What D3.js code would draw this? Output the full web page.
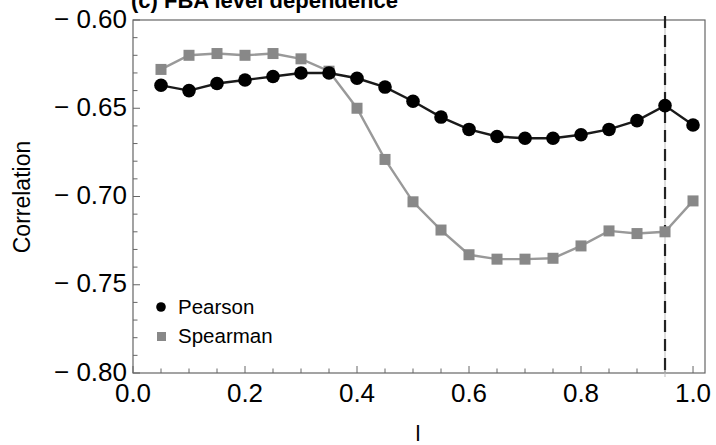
<!DOCTYPE html>
<html><head><meta charset="utf-8">
<script src="https://cdn.jsdelivr.net/npm/d3@7"></script>
<style>body{margin:0;background:#fff;}svg{display:block;font-family:"Liberation Sans",Arial,sans-serif;}</style>
</head><body>
<svg id="c" width="716" height="445"></svg>
<script>
const lValues = [0.05,0.10,0.15,0.20,0.25,0.30,0.35,0.40,0.45,0.50,0.55,0.60,0.65,0.70,0.75,0.80,0.85,0.90,0.95,1.00];
const pearson = [-0.637,-0.640,-0.636,-0.634,-0.632,-0.630,-0.630,-0.633,-0.638,-0.646,-0.655,-0.662,-0.666,-0.667,-0.667,-0.665,-0.662,-0.657,-0.6485,-0.6595];
const spearman = [-0.628,-0.620,-0.619,-0.620,-0.619,-0.622,-0.629,-0.650,-0.679,-0.703,-0.719,-0.733,-0.7355,-0.7355,-0.735,-0.728,-0.7195,-0.721,-0.720,-0.7025];
const xTicks = [0.0,0.2,0.4,0.6,0.8,1.0];
const yTicks = [-0.80,-0.75,-0.70,-0.65,-0.60];
const cutoff = 0.95;
const title = "(c) FBA level dependence";
const xLabel = "l";
const yLabel = "Correlation";
const seriesNames = ["Pearson","Spearman"];

const svg = d3.select("#c");
const L=133, R=705, T=20, B=373;
const x = d3.scaleLinear().domain([0,1.0214]).range([L,R]);
const y = d3.scaleLinear().domain([-0.80,-0.60]).range([B,T]);
const axisCol = "#666";

// frame
svg.append("rect").attr("x",L).attr("y",T).attr("width",R-L).attr("height",B-T)
  .attr("fill","none").attr("stroke",axisCol).attr("stroke-width",1.2);

// y ticks (inward)
const yMinor = d3.range(-0.80,-0.5999,0.01).map(v=>+v.toFixed(2));
svg.append("g").selectAll("line").data(yMinor).join("line")
  .attr("x1",L).attr("x2",d=>L+(yTicks.some(t=>Math.abs(t-d)<1e-9)?7:4.5))
  .attr("y1",d=>y(d)).attr("y2",d=>y(d)).attr("stroke",axisCol).attr("stroke-width",1);
svg.append("g").selectAll("text").data(yTicks).join("text")
  .attr("x",L-6).attr("y",d=>y(d)+7.5).attr("text-anchor","end")
  .attr("font-size",26).attr("fill","#000")
  .text(d=>"\u2212 "+Math.abs(d).toFixed(2));

// x ticks (inward)
const xMinor = d3.range(0,1.0001,0.05).map(v=>+v.toFixed(2));
svg.append("g").selectAll("line").data(xMinor).join("line")
  .attr("x1",d=>x(d)).attr("x2",d=>x(d))
  .attr("y1",B).attr("y2",d=>B-(xTicks.some(t=>Math.abs(t-d)<1e-9)?7:4.5))
  .attr("stroke",axisCol).attr("stroke-width",1);
svg.append("g").selectAll("text").data(xTicks).join("text")
  .attr("x",d=>x(d)).attr("y",B+29).attr("text-anchor","middle")
  .attr("font-size",26).attr("fill","#000")
  .text(d=>d.toFixed(1));

// dashed cutoff line
svg.append("line").attr("x1",x(cutoff)).attr("x2",x(cutoff)).attr("y1",T-4).attr("y2",B+4)
  .attr("stroke","#bbb").attr("stroke-width",1);
svg.append("line").attr("x1",x(cutoff)).attr("x2",x(cutoff)).attr("y1",T-4).attr("y2",B+4)
  .attr("stroke","#222").attr("stroke-width",2.2).attr("stroke-dasharray","12,7");

const line = d3.line().x(d=>x(d[0])).y(d=>y(d[1]));
const sp = lValues.map((l,i)=>[l,spearman[i]]);
const pe = lValues.map((l,i)=>[l,pearson[i]]);

svg.append("path").datum(sp).attr("d",line).attr("fill","none").attr("stroke","#999").attr("stroke-width",2.4);
svg.append("g").selectAll("rect").data(sp).join("rect")
  .attr("x",d=>x(d[0])-5.5).attr("y",d=>y(d[1])-5.5).attr("width",11).attr("height",11).attr("fill","#888");

svg.append("path").datum(pe).attr("d",line).attr("fill","none").attr("stroke","#1a1a1a").attr("stroke-width",2.4);
svg.append("g").selectAll("circle").data(pe).join("circle")
  .attr("cx",d=>x(d[0])).attr("cy",d=>y(d[1])).attr("r",6.8).attr("fill","#000");

// legend
svg.append("circle").attr("cx",161).attr("cy",307).attr("r",4.8).attr("fill","#000");
svg.append("rect").attr("x",157).attr("y",332).attr("width",9).attr("height",9).attr("fill","#888");
svg.append("text").attr("x",178).attr("y",314).attr("font-size",20.5).text(seriesNames[0]);
svg.append("text").attr("x",178).attr("y",343).attr("font-size",20.5).text(seriesNames[1]);

// title and labels
svg.append("text").attr("x",131).attr("y",8).attr("font-size",22).attr("font-weight","bold").text(title);
svg.append("text").attr("x",418).attr("y",441).attr("text-anchor","middle").attr("font-size",22).text(xLabel);
svg.append("text").attr("transform","translate(30,197) rotate(-90)").attr("text-anchor","middle")
  .attr("font-size",23).text(yLabel);
</script>
</body></html>
